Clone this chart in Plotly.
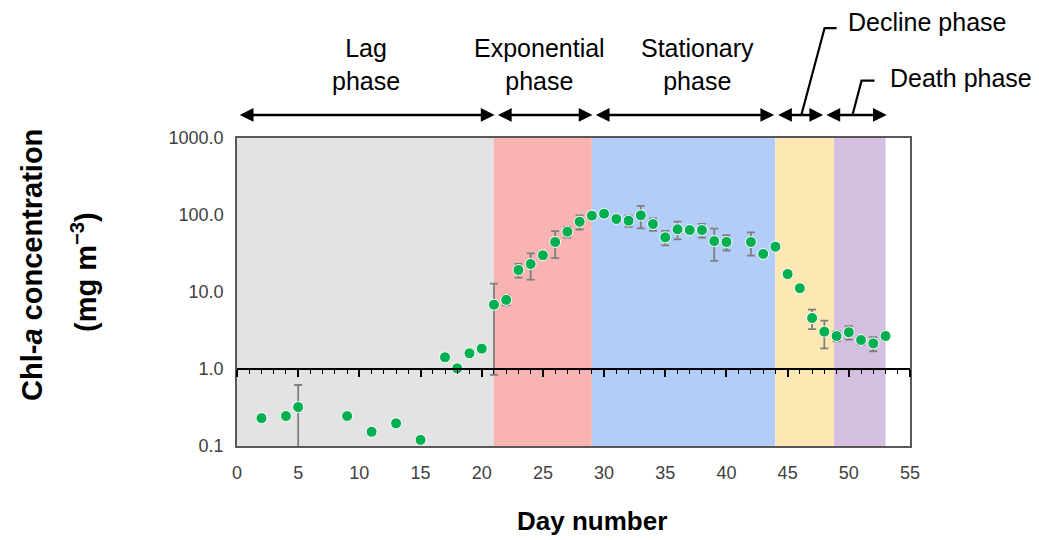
import plotly.graph_objects as go

# Chl-a time series (day, mean, +/- error)
days = [2, 4, 5, 9, 11, 13, 15, 17, 18, 19, 20, 21, 22, 23, 24, 25, 26, 27, 28,
        29, 30, 31, 32, 33, 34, 35, 36, 37, 38, 39, 40, 42, 43, 44, 45, 46, 47,
        48, 49, 50, 51, 52, 53]
chl = [0.23, 0.245, 0.32, 0.245, 0.153, 0.197, 0.12, 1.42, 1.02, 1.6, 1.84, 6.84,
       7.9, 19.3, 23.1, 30.0, 44.6, 60.7, 81.8, 98.0, 104.0, 88.7, 84.4, 99.0,
       76.4, 51.3, 65.2, 63.8, 63.8, 45.9, 44.6, 44.6, 31.2, 38.8, 17.1, 11.2,
       4.6, 3.05, 2.68, 3.0, 2.38, 2.15, 2.68]
chl_err = [0.0, 0.0, 0.30, 0.0, 0.0, 0.0, 0.0, 0.0, 0.0, 0.0, 0.0, 6.0,
           1.2, 3.9, 8.6, 2.7, 17.0, 10.0, 17.0, 2.0, 2.0, 2.0, 14.0, 32.0,
           14.0, 11.0, 17.0, 5.0, 13.0, 20.5, 10.0, 15.0, 0.0, 3.0, 0.0, 0.0,
           1.3, 1.2, 0.4, 0.6, 0.3, 0.45, 0.25]

# Growth phases: background spans and labels
phase_names = ["Lag<br>phase", "Exponential<br>phase", "Stationary<br>phase",
               "Decline phase", "Death phase"]
phase_bounds = [0, 21, 29, 44, 48.8, 53]
phase_colors = ["#e3e3e3", "#f9b3b3", "#b3cdf9", "#fde8b3", "#d5bfe0"]
arrow_spans = [(0.1, 21.05), (21.2, 29.05), (29.2, 43.9), (44.1, 47.9), (48.05, 53.1)]

y_ticks = [0.1, 1, 10, 100, 1000]
y_ticktext = ["0.1", "1.0", "10.0", "100.0", "1000.0"]
x_ticks = list(range(0, 56, 5))

FONT = "Liberation Sans, Arial, sans-serif"

fig = go.Figure()

fig.add_trace(go.Scatter(
    x=days, y=chl, mode="markers",
    marker=dict(color="#00b050", size=11, line=dict(color="white", width=1)),
    error_y=dict(type="data", array=chl_err, visible=True,
                 color="#7f7f7f", thickness=1.8, width=4),
    cliponaxis=True, showlegend=False,
))

# helper trace so the day axis drawn at 1.0 is rendered
fig.add_trace(go.Scatter(
    x=days, y=chl, xaxis="x2", mode="markers",
    marker=dict(opacity=0), hoverinfo="skip", showlegend=False,
))

shapes = []
for i, col in enumerate(phase_colors):
    shapes.append(dict(type="rect", xref="x", yref="paper",
                       x0=phase_bounds[i], x1=phase_bounds[i + 1], y0=0, y1=1,
                       fillcolor=col, line=dict(width=0), layer="below"))

# leader lines for the two short phases
arrow_y = 1.0747
shapes.append(dict(type="path", xref="x", yref="paper",
                   path=f"M 46.12 {arrow_y} L 48.02 1.357 L 49.0 1.357",
                   line=dict(color="black", width=2.2)))
shapes.append(dict(type="path", xref="x", yref="paper",
                   path=f"M 50.3 {arrow_y} L 51.04 1.186 L 52.1 1.186",
                   line=dict(color="black", width=2.2)))

annotations = []
for a, b in arrow_spans:
    annotations.append(dict(
        x=b, y=arrow_y, xref="x", yref="paper",
        ax=a, ay=0, axref="x", ayref="pixel",
        text="", showarrow=True, arrowside="end+start",
        arrowhead=2, startarrowhead=2, arrowsize=1.1, startarrowsize=1.1,
        arrowwidth=2.5, arrowcolor="black", standoff=0, startstandoff=0))

label_font = dict(family=FONT, size=25, color="black")
label_pos = [(10.55, 1.24), (24.75, 1.24), (37.6, 1.24)]
for name, (lx, ly) in zip(phase_names[:3], label_pos):
    annotations.append(dict(x=lx, y=ly, xref="x", yref="paper", text=name,
                            showarrow=False, font=label_font,
                            xanchor="center", yanchor="middle"))
annotations.append(dict(x=49.8, y=1.377, xref="x", yref="paper", text=phase_names[3],
                        showarrow=False, font=label_font,
                        xanchor="left", yanchor="middle"))
annotations.append(dict(x=53.17, y=1.195, xref="x", yref="paper", text=phase_names[4],
                        showarrow=False, font=label_font,
                        xanchor="left", yanchor="middle"))

# axis titles
annotations.append(dict(x=-0.3046, y=0.5877, xref="paper", yref="paper",
                        text="<b>Chl-<i>a</i> concentration</b>", textangle=-90,
                        showarrow=False, font=dict(family=FONT, size=29, color="black"),
                        xanchor="center", yanchor="middle"))
annotations.append(dict(x=-0.2273, y=0.565, xref="paper", yref="paper",
                        text="<b>(mg m<sup>\u22123</sup>)</b>", textangle=-90,
                        showarrow=False, font=dict(family=FONT, size=29, color="black"),
                        xanchor="center", yanchor="middle"))
annotations.append(dict(x=0.5275, y=-0.2435, xref="paper", yref="paper",
                        text="<b>Day number</b>", showarrow=False,
                        font=dict(family=FONT, size=26, color="black"),
                        xanchor="center", yanchor="middle"))

fig.update_layout(
    width=1039, height=540,
    margin=dict(l=237, r=129, t=138, b=94),
    paper_bgcolor="white", plot_bgcolor="white",
    shapes=shapes, annotations=annotations,
    xaxis=dict(range=[0, 55], tickvals=x_ticks, showgrid=False, zeroline=False,
               showline=True, mirror=True, linecolor="#595959", linewidth=1.5,
               ticks="outside", ticklen=10, tickcolor="rgba(0,0,0,0)",
               tickfont=dict(family=FONT, size=18, color="#404040")),
    xaxis2=dict(range=[0, 55], overlaying="x", anchor="free", position=0.25,
                showline=True, linecolor="black", linewidth=2,
                ticks="outside", tick0=0, dtick=5, ticklen=7, tickwidth=1.5,
                tickcolor="black", showticklabels=False, showgrid=False,
                zeroline=False,
                minor=dict(dtick=1, ticks="outside", ticklen=4, tickwidth=1.2,
                           tickcolor="black")),
    yaxis=dict(type="log", range=[-1, 3], tickvals=y_ticks, ticktext=y_ticktext,
               showgrid=False, zeroline=False, showline=True, mirror=True,
               linecolor="#595959", linewidth=1.5, ticks="outside", ticklen=8,
               tickcolor="rgba(0,0,0,0)",
               tickfont=dict(family=FONT, size=18, color="#404040")),
)

fig.write_html("out.html")
